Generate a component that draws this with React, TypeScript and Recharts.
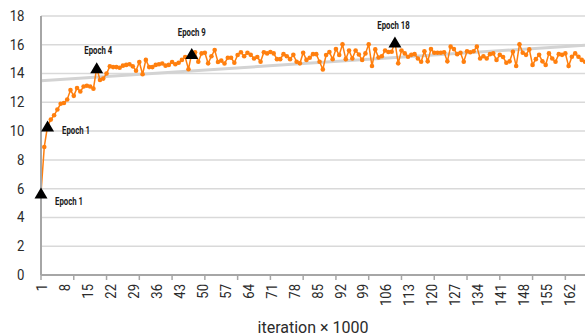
import React from 'react';
import { ComposedChart, Line, XAxis, YAxis, CartesianGrid, Label } from 'recharts';

// ---------- data ----------
const iterations: number[] = Array.from({ length: 167 }, (_, i) => i + 1);

const accuracy: number[] = [
  5.7, 8.9, 10.35, 10.8, 11.1, 11.5, 11.9, 11.95, 12.2, 12.85,
  12.45, 13.0, 12.75, 13.1, 13.15, 13.1, 12.95, 14.4, 13.55, 13.65,
  14.0, 14.5, 14.45, 14.45, 14.4, 14.55, 14.6, 14.65, 14.5, 14.2,
  14.8, 13.95, 14.95, 14.45, 14.45, 14.6, 14.65, 14.7, 14.55, 14.6,
  14.8, 14.65, 14.75, 14.95, 15.15, 14.3, 15.4, 15.48,
  14.82, 15.4, 15.45, 14.71, 15.2, 15.64, 14.8, 14.9, 14.7, 15.1,
  15.1, 14.75, 15.29, 15.48, 15.2, 15.45, 15.3, 15.05, 15.15, 14.82,
  15.48, 15.4, 15.5, 15.4, 15.0, 15.0, 15.35, 15.2, 15.0, 15.3,
  14.82, 14.71, 15.45, 14.95, 15.1, 15.35, 15.35, 14.82, 14.29, 15.29,
  15.49, 15.0, 15.7, 15.29, 16.03, 15.0, 15.6, 15.05, 15.6, 15.32,
  14.95, 15.4, 16.03, 14.52, 15.68, 15.12, 15.2, 15.6, 15.5,
  15.52, 16.2,
  14.71, 15.6, 15.4, 15.17, 15.3, 15.35, 15.05, 14.82, 15.55, 14.85,
  15.7, 15.45, 15.45, 15.45, 15.48, 14.85, 15.87, 15.7, 15.35, 15.45,
  14.82, 15.55, 15.48, 15.55, 15.87, 15.05, 15.2, 15.05, 15.35, 15.4,
  14.95, 15.3, 15.15, 14.75, 14.85, 15.52, 14.52, 16.03, 15.45, 15.3,
  15.68, 14.6, 15.0, 15.3, 14.85, 14.6, 15.4, 15.05, 14.82, 15.35,
  15.3, 15.4, 14.52, 15.17, 15.4, 15.17, 14.95, 14.82,
];

const trendStartEnd: number[] = [13.5, 15.97];
const epochIndices: number[] = [0, 2, 17, 46, 108];
const epochNames: string[] = ['Epoch 1', 'Epoch 1', 'Epoch 4', 'Epoch 9', 'Epoch 18'];
const yTicks: number[] = [0, 2, 4, 6, 8, 10, 12, 14, 16, 18];
const xTitle = 'iteration × 1000';

// ---------- layout / style ----------
const LABEL_EVERY = 7;
const TICK_EVERY = 10;
const ORANGE = '#ff7f0e';
const AXIS_GREY = '#a6a6a6';
const GRID_GREY = '#d9d9d9';
const TEXT = '#2b2b2b';

const epochLabelPlacement = [
  { dx: 14, dy: 12.5, anchor: 'start' },
  { dx: 14.5, dy: 8.2, anchor: 'start' },
  { dx: 1.6, dy: -13.8, anchor: 'middle' },
  { dx: 0, dy: -17.4, anchor: 'middle' },
  { dx: -1.4, dy: -12.6, anchor: 'middle' },
];

const lastIdx = iterations.length - 1;
const data = iterations.map((it, i) => {
  const k = epochIndices.indexOf(i);
  return {
    it,
    acc: accuracy[i],
    trend: i === 0 ? trendStartEnd[0] : i === lastIdx ? trendStartEnd[1] : null,
    epoch: k >= 0 ? accuracy[i] : null,
    epochName: k >= 0 ? epochNames[k] : null,
  };
});

const XTick = (props: any) => {
  const { x, y, payload, index } = props;
  const idx = typeof index === 'number' ? index : payload.index;
  return (
    <g>
      {idx % TICK_EVERY === 0 && (
        <line x1={x} x2={x} y1={y} y2={y + 5} stroke={AXIS_GREY} strokeWidth={1.5} />
      )}
      {idx % LABEL_EVERY === 0 && (
        <text
          transform={`translate(${x + 1},${y + 9}) rotate(-90) scale(0.87,1)`}
          textAnchor="end"
          dominantBaseline="central"
          fontSize={15}
          fill={TEXT}
        >
          {payload.value}
        </text>
      )}
    </g>
  );
};

const YTick = (props: any) => {
  const { x, y, payload } = props;
  return (
    <text
      transform={`translate(${x - 16.5},${y}) scale(0.85,1)`}
      textAnchor="end"
      dominantBaseline="central"
      fontSize={15.5}
      fill={TEXT}
    >
      {payload.value}
    </text>
  );
};

const EpochMarker = (props: any) => {
  const { cx, cy, payload, index } = props;
  if (!payload || payload.epoch == null || cx == null || cy == null || isNaN(cy)) {
    return <g key={`em-${index}`} />;
  }
  const k = epochIndices.indexOf(index);
  const p = epochLabelPlacement[k] || epochLabelPlacement[0];
  return (
    <g key={`em-${index}`}>
      <polygon
        points={`${cx},${cy - 5.5} ${cx - 6.5},${cy + 5.5} ${cx + 6.5},${cy + 5.5}`}
        fill="#000"
      />
      <text
        transform={`translate(${cx + p.dx},${cy + p.dy}) scale(0.78,1)`}
        textAnchor={p.anchor as any}
        fontSize={10}
        fontWeight="bold"
        fill="#1a1a1a"
      >
        {payload.epochName}
      </text>
    </g>
  );
};

export default function App() {
  return (
    <div style={{ position: 'absolute', left: 0, top: 0, width: 585, height: 336, background: '#fff' }}>
      <ComposedChart
        width={585}
        height={336}
        data={data}
        margin={{ top: 16, right: 0, bottom: 0, left: 0 }}
        style={{ fontFamily: 'Roboto, sans-serif' }}
      >
        <CartesianGrid vertical={false} stroke={GRID_GREY} strokeWidth={1.5} />
        <XAxis
          dataKey="it"
          type="category"
          interval={0}
          height={61}
          tickLine={false}
          tickSize={0}
          tickMargin={0}
          axisLine={{ stroke: AXIS_GREY, strokeWidth: 2 }}
          tick={<XTick />}
        >
          <Label value={xTitle} position="insideBottom" offset={3} fontSize={16} fill={TEXT} />
        </XAxis>
        <YAxis
          type="number"
          domain={[0, 18]}
          ticks={yTicks}
          interval={0}
          width={41}
          tickLine={false}
          tickSize={0}
          tickMargin={0}
          axisLine={{ stroke: AXIS_GREY, strokeWidth: 2 }}
          tick={<YTick />}
        />
        <Line
          dataKey="trend"
          connectNulls
          stroke="#d3d3d3"
          strokeWidth={3}
          dot={false}
          activeDot={false}
          isAnimationActive={false}
        />
        <Line
          dataKey="acc"
          stroke={ORANGE}
          strokeWidth={1.5}
          dot={{ r: 2.3, fill: ORANGE, stroke: ORANGE, strokeWidth: 0 }}
          activeDot={false}
          isAnimationActive={false}
        />
        <Line
          dataKey="epoch"
          stroke="none"
          dot={EpochMarker}
          activeDot={false}
          isAnimationActive={false}
        />
      </ComposedChart>
    </div>
  );
}
